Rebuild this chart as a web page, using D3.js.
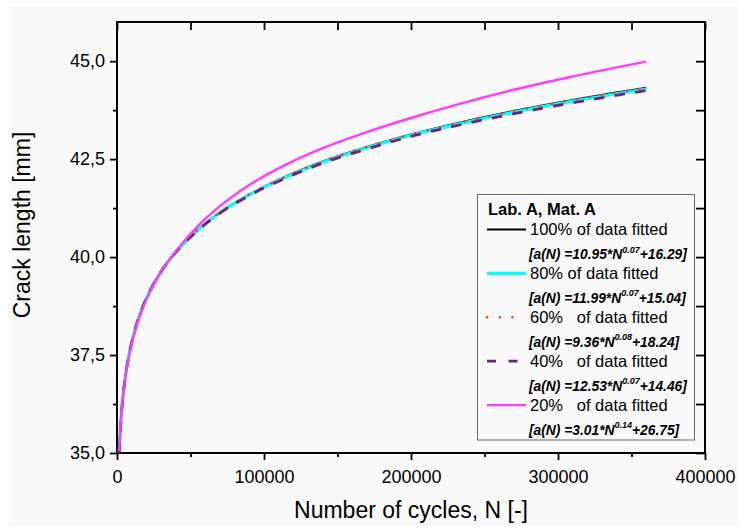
<!DOCTYPE html>
<html>
<head>
<meta charset="utf-8">
<script src="https://cdn.jsdelivr.net/npm/d3@7/dist/d3.min.js"></script>
<style>
  html, body { margin: 0; padding: 0; background: #ffffff; }
  svg { display: block; font-family: "Liberation Sans", Arial, sans-serif; }
</style>
</head>
<body>
<svg id="chart" width="739" height="528"></svg>
<script>
// Number of load cycles at which the fitted crack-length curves are sampled
const cycles = [1500, 2200, 3000, 4000, 5000, 6500, 8000, 12000, 17000, 24000, 32000, 42000,
  55000, 70000, 90000, 115000, 140000, 170000, 200000, 235000, 270000, 310000, 360000];

// Crack length [mm] for each share of the data used in the fit
const fit100 = [35.03, 35.56, 36.01, 36.43, 36.76, 37.16, 37.48, 38.12, 38.69, 39.26, 39.75, 40.22,
  40.70, 41.14, 41.60, 42.06, 42.44, 42.81, 43.13, 43.45, 43.73, 44.01, 44.32];
const fit80 = [35.02, 35.55, 36.00, 36.42, 36.75, 37.15, 37.47, 38.11, 38.68, 39.25, 39.74, 40.21,
  40.69, 41.13, 41.59, 42.04, 42.42, 42.79, 43.11, 43.42, 43.70, 43.98, 44.29];
const fit60 = [35.04, 35.56, 36.02, 36.43, 36.77, 37.16, 37.48, 38.12, 38.69, 39.26, 39.75, 40.22,
  40.70, 41.14, 41.60, 42.06, 42.44, 42.81, 43.13, 43.45, 43.73, 44.01, 44.32];
const fit40 = [35.00, 35.54, 35.99, 36.41, 36.75, 37.15, 37.47, 38.11, 38.68, 39.25, 39.74, 40.21,
  40.68, 41.12, 41.57, 42.02, 42.40, 42.76, 43.08, 43.39, 43.66, 43.94, 44.25];
const fit20 = [35.05, 35.58, 36.03, 36.44, 36.75, 37.14, 37.44, 38.08, 38.65, 39.23, 39.74, 40.24,
  40.79, 41.30, 41.84, 42.36, 42.78, 43.19, 43.55, 43.93, 44.27, 44.61, 44.99];

// Legend texts
const legendTitle = "Lab. A, Mat. A";
const legendLabels = ["100% of data fitted", "80% of data fitted", "60%   of data fitted",
  "40%   of data fitted", "20%   of data fitted"];
const fitCoef = ["10.95", "11.99", "9.36", "12.53", "3.01"];
const fitExpo = ["0.07", "0.07", "0.08", "0.07", "0.14"];
const fitConst = ["16.29", "15.04", "18.24", "14.46", "26.75"];

// Axis ticks
const xMajorTicks = [0, 100000, 200000, 300000, 400000];
const xMinorTicks = [50000, 150000, 250000, 350000];
const yMajorTicks = [35, 37.5, 40, 42.5, 45];
const yMinorTicks = [36.25, 38.75, 41.25, 43.75];

const svg = d3.select("#chart");
const W = 739, H = 528;
const plotLeft = 117, plotRight = 705, plotTop = 22, plotBottom = 453;

// Light panel behind the whole figure
svg.append("rect").attr("x", 9).attr("y", 7).attr("width", W - 9).attr("height", H - 9)
  .attr("fill", "#f9f9f9");

const x = d3.scaleLinear().domain([0, 400000]).range([plotLeft, plotRight]);
const y = d3.scaleLinear().domain([35, 46]).range([plotBottom, plotTop]);

const fmtY = v => d3.format(".1f")(v).replace(".", ",");

// Bottom axis: labelled majors, short minors, pointing outward
const gx = svg.append("g").attr("transform", `translate(0,${plotBottom})`);
gx.call(d3.axisBottom(x).tickValues(xMajorTicks).tickSize(7).tickPadding(10)
  .tickFormat(d3.format("d")));
gx.append("g").call(d3.axisBottom(x).tickValues(xMinorTicks).tickSize(4).tickFormat(""));

// Left axis
const gy = svg.append("g").attr("transform", `translate(${plotLeft},0)`);
gy.call(d3.axisLeft(y).tickValues(yMajorTicks).tickSize(7).tickPadding(5).tickFormat(fmtY));
gy.append("g").call(d3.axisLeft(y).tickValues(yMinorTicks).tickSize(4).tickFormat(""));

// Top and right axes: inward ticks, no labels
const gt = svg.append("g").attr("transform", `translate(0,${plotTop})`);
gt.call(d3.axisBottom(x).tickValues(xMajorTicks.concat(xMinorTicks)).tickSize(8).tickFormat(""));
const gr = svg.append("g").attr("transform", `translate(${plotRight},0)`);
gr.call(d3.axisLeft(y).tickValues(yMajorTicks.concat(yMinorTicks)).tickSize(9).tickFormat(""));

svg.selectAll(".domain").remove();
svg.selectAll(".tick line").attr("stroke", "#000").attr("stroke-width", 1.8);
svg.selectAll(".tick text").attr("font-size", 18).attr("fill", "#000")
  .attr("font-family", "'Liberation Sans', Arial, sans-serif");

// Plot frame
svg.append("rect").attr("x", plotLeft).attr("y", plotTop)
  .attr("width", plotRight - plotLeft).attr("height", plotBottom - plotTop)
  .attr("fill", "none").attr("stroke", "#000").attr("stroke-width", 2);

// Series styles, drawn in legend order (keyDash/keyEnd style the legend sample)
const series = [
  { values: fit100, color: "#000000", width: 2, dash: null, keyDash: null, cap: "butt", keyEnd: 526 },
  { values: fit80, color: "#00ffff", width: 3.2, dash: null, keyDash: null, cap: "butt", keyEnd: 526 },
  { values: fit60, color: "#f5401f", width: 2.6, dash: "0.1,12.6", keyDash: "0.1,12.6", cap: "round", keyEnd: 520 },
  { values: fit40, color: "#76207e", width: 2.8, dash: "10.5,10.3", keyDash: "9,12.5", cap: "butt", keyEnd: 526 },
  { values: fit20, color: "#ff3cff", width: 2.4, dash: null, keyDash: null, cap: "butt", keyEnd: 526 }
];

const line = d3.line().x(d => x(d[0])).y(d => y(d[1])).curve(d3.curveMonotoneX);
const plot = svg.append("g");
series.forEach(s => {
  plot.append("path")
    .attr("d", line(cycles.map((n, i) => [n, s.values[i]])))
    .attr("fill", "none").attr("stroke", s.color).attr("stroke-width", s.width)
    .attr("stroke-linecap", s.cap)
    .attr("stroke-dasharray", s.dash);
});

// Legend
const lg = svg.append("g");
lg.append("rect").attr("x", 477.5).attr("y", 194.5).attr("width", 217).attr("height", 245.5)
  .attr("fill", "#f9f9f9").attr("stroke", "#6a6a6a").attr("stroke-width", 1);
lg.append("text").attr("x", 488).attr("y", 214.5).attr("font-size", 16.5).attr("font-weight", "bold")
  .attr("fill", "#000").text(legendTitle);

const rowGap = 43.9;
series.forEach((s, i) => {
  const yl = 235 + i * rowGap;
  lg.append("line").attr("x1", 487).attr("x2", s.keyEnd).attr("y1", yl - 5.5).attr("y2", yl - 5.5)
    .attr("stroke", s.color).attr("stroke-width", s.width)
    .attr("stroke-linecap", s.cap).attr("stroke-dasharray", s.keyDash);
  lg.append("text").attr("x", 530).attr("y", yl).attr("font-size", 16.5).attr("fill", "#000")
    .attr("xml:space", "preserve").style("white-space", "pre").text(legendLabels[i]);
  const ft = lg.append("text").attr("x", 529).attr("y", yl + 24).attr("font-size", 13.8)
    .attr("font-weight", "bold").attr("font-style", "italic").attr("fill", "#000");
  ft.append("tspan").text(`[a(N) =${fitCoef[i]}*N`);
  ft.append("tspan").attr("dy", -6.5).attr("font-size", 9).text(fitExpo[i]);
  ft.append("tspan").attr("dy", 6.5).text(`+${fitConst[i]}]`);
});

// Axis titles
svg.append("text").attr("x", (plotLeft + plotRight) / 2).attr("y", 518).attr("text-anchor", "middle")
  .attr("font-size", 23).attr("fill", "#000").text("Number of cycles, N [-]");
svg.append("text").attr("transform", "translate(30,225) rotate(-90)").attr("text-anchor", "middle")
  .attr("font-size", 23).attr("fill", "#000").text("Crack length [mm]");
</script>
</body>
</html>
